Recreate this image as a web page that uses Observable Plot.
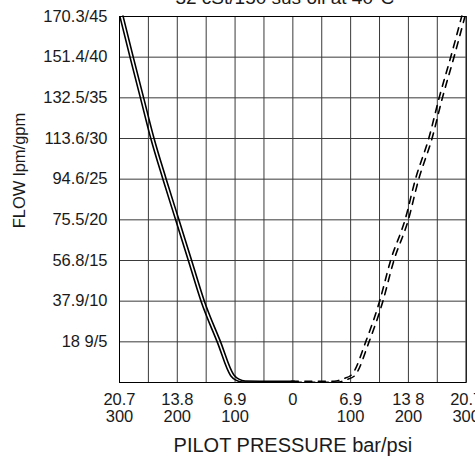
<!DOCTYPE html>
<html><head><meta charset="utf-8">
<script src="https://cdn.jsdelivr.net/npm/d3@7"></script>
<script src="https://cdn.jsdelivr.net/npm/@observablehq/plot@0.6"></script>
<style>
body{margin:0;background:#fff}
svg{font-family:"Liberation Sans",Arial,Helvetica,sans-serif}
</style>
</head><body><div id="chart"></div>
<script>
const title = "32 cSt/150 sus oil at 40°C";
const xLabel = "PILOT PRESSURE bar/psi";
const yLabel = "FLOW lpm/gpm";

// pilot pressure (psi, negative = left side) / flow (gpm)
const leftPsi = [-296.5, -279, -261, -243, -222, -200, -178, -156, -128, -105, -96, -85, -60, 0];
const leftGpm = [45, 40, 35, 30, 25, 20, 15, 10, 5, 0.9, 0.35, 0.12, 0.1, 0.1];
const rightPsi = [0, 74, 90, 104.5, 129, 153, 172, 197, 215, 238, 256, 276, 295];
const rightGpm = [0.1, 0.1, 0.4, 0.9, 5, 10, 15, 20, 25, 30, 35, 40, 45];

const xTicks = [-300, -200, -100, 0, 100, 200, 300];
const xTickLabels = ["20.7\n300", "13.8\n200", "6.9\n100", "0", "6.9\n100", "13 8\n200", "20.7\n300"];
const yTicks = [5, 10, 15, 20, 25, 30, 35, 40, 45];
const yTickLabels = ["18 9/5", "37.9/10", "56.8/15", "75.5/20", "94.6/25", "113.6/30", "132.5/35", "151.4/40", "170.3/45"];
const gridPsi = [-300, -250, -200, -150, -100, -50, 0, 50, 100, 150, 200, 250, 300];
const gridGpm = [0, 5, 10, 15, 20, 25, 30, 35, 40, 45];

const left = leftPsi.map((x, i) => ({x, y: leftGpm[i]}));
const right = rightPsi.map((x, i) => ({x, y: rightGpm[i]}));
const xFmt = new Map(xTicks.map((t, i) => [t, xTickLabels[i]]));
const yFmt = new Map(yTicks.map((t, i) => [t, yTickLabels[i]]));

const solid = {x: "x", y: "y", stroke: "#000", strokeWidth: 1.6, curve: "monotone-x"};
const dashed = {...solid, strokeDasharray: "7,6.5"};
const ink = "#1a1a1a";

const chart = Plot.plot({
  width: 475,
  height: 456,
  marginLeft: 119,
  marginRight: 9.3,
  marginTop: 16,
  marginBottom: 74,
  style: {fontSize: "16.5px", color: ink, overflow: "visible"},
  x: {domain: [-300, 300], axis: null},
  y: {domain: [0, 45], axis: null},
  marks: [
    Plot.ruleX(gridPsi, {stroke: "#3a3a3a", strokeWidth: 1}),
    Plot.ruleY(gridGpm, {stroke: "#3a3a3a", strokeWidth: 1}),
    Plot.frame({stroke: "#000", strokeWidth: 1}),
    // tick labels placed through the x / y scales
    Plot.text(xTicks, {x: d => d, text: d => xFmt.get(d), frameAnchor: "bottom", textAnchor: "middle", lineAnchor: "top", dy: 11, lineHeight: 1.0, fontSize: 16.5, fill: ink}),
    Plot.text(yTicks, {y: d => d, text: d => yFmt.get(d), frameAnchor: "left", textAnchor: "end", lineAnchor: "middle", dx: -12, fontSize: 16.5, fill: ink}),
    Plot.line(left, {...solid, dx: -1.5, dy: 0.5}),
    Plot.line(left, {...solid, dx: 1.5, dy: -0.5}),
    Plot.line(right, {...dashed, dx: -1.5, dy: -0.5}),
    Plot.line(right, {...dashed, dx: 1.5, dy: 0.5}),
    Plot.text([title], {frameAnchor: "top", textAnchor: "middle", dx: -8, dy: -18.5, lineAnchor: "middle", fontSize: 19, fill: ink}),
    Plot.text([xLabel], {frameAnchor: "bottom", textAnchor: "middle", dy: 63, lineAnchor: "middle", fontSize: 20, fill: ink}),
    Plot.text([yLabel], {frameAnchor: "left", textAnchor: "middle", dx: -100, dy: -29, rotate: -90, lineAnchor: "middle", fontSize: 16.5, fill: ink})
  ]
});
document.getElementById("chart").appendChild(chart);
</script>
</body></html>
